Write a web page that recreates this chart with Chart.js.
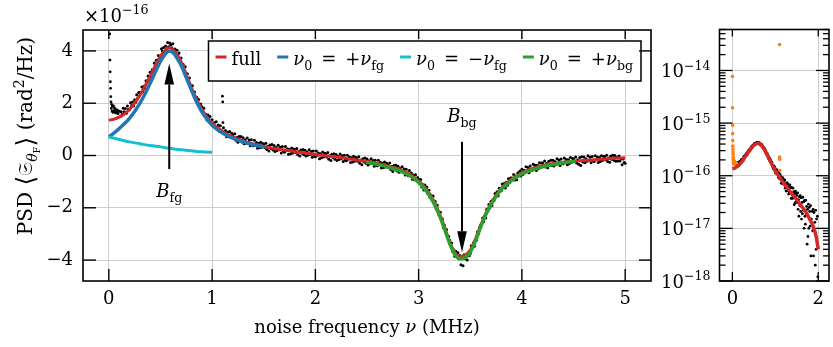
<!DOCTYPE html>
<html>
<head>
<meta charset="utf-8">
<script src="https://cdn.jsdelivr.net/npm/chart.js@4.4.1/dist/chart.umd.min.js"></script>
<style>
  html, body { margin: 0; padding: 0; background: #fff; }
  body { width: 833px; height: 347px; position: relative; overflow: hidden; }
  canvas { position: absolute; top: 0; }
  #main { left: 0; }
  #zoom { left: 655px; }
</style>
</head>
<body>
<canvas id="main" width="655" height="347"></canvas>
<canvas id="zoom" width="178" height="347"></canvas>
<script>
// PSD values are given in units of 1e-16 rad^2/Hz
const PSD_UNIT = 1e-16;

// measured spectrum, one point every 10 kHz starting at 0.10 MHz
const psdStart = 0.10;
const psdStep = 0.01;
const psdValues = [
  1.69, 1.49, 1.67, 1.58, 1.81, 1.67, 1.80, 1.62, 1.89, 1.77,
  1.75, 2.02, 1.91, 2.05, 1.89, 2.13, 2.04, 2.32, 2.20, 2.41,
  2.41, 2.38, 2.62, 2.45, 2.65, 2.55, 2.86, 2.81, 3.04, 2.91,
  3.18, 3.04, 3.28, 3.25, 3.54, 3.45, 3.64, 3.51, 3.82, 3.72,
  3.80, 4.08, 3.99, 4.13, 3.96, 4.19, 4.08, 4.32, 4.16, 4.30,
  4.24, 4.12, 4.27, 3.99, 4.07, 3.85, 4.03, 3.84, 3.92, 3.65,
  3.73, 3.42, 3.48, 3.28, 3.39, 3.12, 3.13, 2.82, 2.96, 2.70,
  2.54, 2.67, 2.43, 2.43, 2.13, 2.23, 2.00, 2.14, 1.89, 1.97,
  1.86, 1.70, 1.81, 1.51, 1.58, 1.36, 1.55, 1.38, 1.49, 1.24,
  1.37, 1.12, 1.25, 1.11, 1.29, 1.09, 1.17, 0.93, 1.14, 0.95,
  0.87, 1.06, 0.89, 0.96, 0.72, 0.89, 0.72, 0.92, 0.72, 0.85,
  0.79, 0.68, 0.83, 0.58, 0.69, 0.51, 0.73, 0.60, 0.73, 0.52,
  0.68, 0.45, 0.60, 0.47, 0.67, 0.49, 0.59, 0.37, 0.60, 0.43,
  0.37, 0.58, 0.42, 0.50, 0.28, 0.46, 0.30, 0.51, 0.32, 0.46,
  0.42, 0.31, 0.47, 0.23, 0.35, 0.17, 0.40, 0.27, 0.42, 0.21,
  0.38, 0.15, 0.31, 0.19, 0.39, 0.22, 0.32, 0.10, 0.34, 0.17,
  0.12, 0.34, 0.18, 0.26, 0.05, 0.23, 0.07, 0.29, 0.10, 0.25,
  0.21, 0.11, 0.27, 0.03, 0.15, -0.02, 0.21, 0.09, 0.23, 0.03,
  0.20, -0.02, 0.13, 0.02, 0.22, 0.04, 0.15, -0.07, 0.17, 0.012,
  -0.05, 0.17, 0.01, 0.10, -0.12, 0.07, -0.09, 0.13, -0.06, 0.09,
  0.05, -0.06, 0.11, -0.14, -0.01, -0.19, 0.05, -0.08, 0.07, -0.14,
  0.04, -0.19, -0.03, -0.15, 0.06, -0.12, -0.01, -0.23, 0.01, -0.16,
  -0.20, 0.01, -0.14, -0.06, -0.27, -0.09, -0.25, -0.03, -0.22, -0.07,
  -0.11, -0.22, -0.05, -0.30, -0.17, -0.35, -0.12, -0.24, -0.10, -0.30,
  -0.13, -0.36, -0.20, -0.32, -0.12, -0.30, -0.19, -0.41, -0.18, -0.34,
  -0.39, -0.18, -0.34, -0.26, -0.48, -0.30, -0.46, -0.25, -0.44, -0.30,
  -0.34, -0.45, -0.29, -0.54, -0.42, -0.61, -0.38, -0.51, -0.37, -0.58,
  -0.41, -0.64, -0.50, -0.62, -0.43, -0.62, -0.52, -0.75, -0.53, -0.71,
  -0.77, -0.57, -0.74, -0.67, -0.91, -0.75, -0.93, -0.74, -0.95, -0.84,
  -0.91, -1.05, -0.92, -1.20, -1.11, -1.32, -1.13, -1.30, -1.20, -1.46,
  -1.33, -1.61, -1.52, -1.69, -1.55, -1.79, -1.76, -2.05, -1.90, -2.16,
  -2.29, -2.17, -2.42, -2.43, -2.75, -2.67, -2.93, -2.83, -3.13, -3.09,
  -3.24, -3.43, -3.35, -3.67, -3.61, -3.85, -3.66, -3.83, -3.72, -3.95,
  -3.82, -4.18, -3.91, -4.22, -3.80, -3.95, -3.82, -4.00, -3.72, -3.83,
  -3.75, -3.45, -3.52, -3.35, -3.47, -3.19, -3.24, -2.92, -2.99, -2.74,
  -2.66, -2.66, -2.39, -2.53, -2.30, -2.39, -2.06, -2.10, -1.87, -2.00,
  -1.76, -1.91, -1.68, -1.72, -1.45, -1.56, -1.39, -1.54, -1.25, -1.36,
  -1.35, -1.09, -1.20, -1.07, -1.24, -1.02, -1.14, -0.89, -1.04, -0.86,
  -0.86, -0.93, -0.73, -0.94, -0.79, -0.93, -0.67, -0.77, -0.60, -0.78,
  -0.53, -0.73, -0.56, -0.65, -0.43, -0.58, -0.46, -0.66, -0.40, -0.55,
  -0.56, -0.33, -0.47, -0.37, -0.57, -0.37, -0.51, -0.28, -0.45, -0.29,
  -0.29, -0.39, -0.21, -0.44, -0.31, -0.47, -0.22, -0.34, -0.18, -0.38,
  -0.18, -0.40, -0.23, -0.34, -0.12, -0.29, -0.17, -0.38, -0.13, -0.29,
  -0.32, -0.10, -0.24, -0.15, -0.35, -0.16, -0.31, -0.08, -0.26, -0.11,
  -0.13, -0.23, -0.06, -0.29, -0.16, -0.33, -0.08, -0.38, -0.05, -0.25,
  -0.06, -0.28, -0.12, -0.22, -0.01, -0.18, -0.07, -0.28, -0.04, -0.19,
  -0.23, -0.01, -0.16, -0.06, -0.27, -0.08, -0.23, -0.01, -0.19, -0.03,
  -0.06, -0.16, 0.01, -0.23, -0.10, -0.26, -0.02, -0.14, 0.01, -0.18,
  0.00, -0.22, -0.08, -0.21, -0.02, -0.21, -0.12, -0.35, -0.13, -0.27, -0.30
];

// points left out of the fit (below 0.1 MHz and the spikes near 1.1 MHz)
const exclFreq = [0.000, 0.003, 0.005, 0.007, 0.009, 0.011, 0.013, 0.015, 0.017, 0.019,
                  0.021, 0.024, 0.028, 0.032, 0.036, 0.040, 0.045, 0.050, 0.055, 0.060,
                  0.065, 0.070, 0.075, 0.080, 0.085, 0.090, 0.095, 1.100, 1.100, 1.103, 1.105];
const exclPsd = [77, 19.5, 9.1, 6.3, 4.65, 3.65, 3.2, 2.82, 2.57, 2.25,
                 2.05, 1.8, 1.95, 1.7, 1.88, 1.65, 1.9, 1.72, 1.82, 1.64,
                 1.76, 1.68, 1.62, 1.74, 1.66, 1.6, 1.7, 310, 2.27, 2.05, 1.26];

// fit: full model
const fullFreq = [0, 0.05, 0.1, 0.15, 0.2, 0.25, 0.3, 0.35, 0.4, 0.45, 0.5, 0.55, 0.585, 0.62, 0.66,
                  0.7, 0.75, 0.8, 0.85, 0.9, 0.95, 1.0, 1.1, 1.2, 1.3, 1.4, 1.5, 1.6, 1.7, 1.8,
                  1.9, 1.95, 2.0, 2.1, 2.2, 2.3, 2.4, 2.5, 2.6, 2.7, 2.8, 2.9, 3.0, 3.05, 3.1,
                  3.15, 3.2, 3.25, 3.3, 3.35, 3.4, 3.45, 3.5, 3.55, 3.6, 3.65, 3.7, 3.8, 3.9, 4.0,
                  4.1, 4.2, 4.3, 4.4, 4.5, 4.6, 4.7, 4.8, 4.9, 5.0];
const fullPsd = [1.35, 1.39, 1.47, 1.59, 1.76, 2.0, 2.3, 2.65, 3.03, 3.43, 3.79, 4.04, 4.12, 4.06, 3.86,
                 3.58, 3.1, 2.6, 2.15, 1.77, 1.48, 1.24, 0.93, 0.71, 0.56, 0.44, 0.35, 0.27, 0.21, 0.15,
                 0.1, 0.07, 0.04, -0.01, -0.06, -0.11, -0.17, -0.23, -0.3, -0.4, -0.51, -0.68, -0.97, -1.17, -1.43,
                 -1.76, -2.2, -2.72, -3.3, -3.7, -3.87, -3.82, -3.62, -3.2, -2.68, -2.22, -1.84, -1.25, -0.91, -0.66,
                 -0.5, -0.38, -0.31, -0.26, -0.22, -0.19, -0.16, -0.13, -0.11, -0.09];

// fit: single Lorentzian at +nu_fg
const fgPlusFreq = [0, 0.05, 0.1, 0.15, 0.2, 0.25, 0.3, 0.35, 0.4, 0.45, 0.5, 0.55, 0.585, 0.62, 0.66,
                    0.7, 0.75, 0.8, 0.85, 0.9, 0.95, 1.0, 1.1, 1.2, 1.3, 1.4, 1.51];
const fgPlusPsd = [0.71, 0.86, 1.03, 1.21, 1.42, 1.68, 1.99, 2.35, 2.76, 3.19, 3.6, 3.9, 4.0, 3.94, 3.73,
                   3.45, 2.98, 2.5, 2.05, 1.68, 1.39, 1.16, 0.86, 0.66, 0.52, 0.41, 0.33];

// fit: mirrored term at -nu_fg
const fgMinusFreq = [0, 0.1, 0.2, 0.3, 0.4, 0.5, 0.6, 0.7, 0.8, 0.9, 1.0];
const fgMinusPsd = [0.71, 0.61, 0.52, 0.45, 0.38, 0.33, 0.27, 0.22, 0.18, 0.14, 0.12];

// fit: dip at +nu_bg
const bgPlusFreq = [2.49, 2.6, 2.7, 2.8, 2.9, 3.0, 3.05, 3.1, 3.15, 3.2, 3.25, 3.3, 3.35, 3.4,
                    3.45, 3.5, 3.55, 3.6, 3.65, 3.7, 3.8, 3.9, 4.0, 4.1, 4.2, 4.3, 4.4, 4.52];
const bgPlusPsd = [-0.26, -0.34, -0.44, -0.56, -0.74, -1.03, -1.23, -1.5, -1.84, -2.28, -2.8, -3.36, -3.78, -3.95,
                   -3.91, -3.7, -3.27, -2.74, -2.27, -1.89, -1.3, -0.96, -0.71, -0.55, -0.43, -0.35, -0.28, -0.22];

// arrows marking the two resonances
const arrowFreq = [0.585, 3.42];
const arrowFrom = [-0.52, 0.52];
const arrowTo = [3.52, -3.7];
const arrowLabelY = [-1.6, 1.28];
const arrowLabelSub = ['fg', 'bg'];

// axes
const xTicks = [0, 1, 2, 3, 4, 5];
const yTicks = [-4, -2, 0, 2, 4];
const zoomXTicks = [0, 2];
const zoomDecades = [-18, -17, -16, -15, -14];
const zoomMinor = [1, 2, 3, 4, 5, 6, 7, 8, 9];
const zoomYMin = 1e-18, zoomYMax = 6e-14;

const FONT = '"DejaVu Serif", serif';
const FS = 18;
const GRID = '#cccccc';
const RED = '#d62728', BLUE = '#1f77b4', CYAN = '#17becf', GREEN = '#2ca02c', ORANGE = '#ff7f0e';

const pairs = (xs, ys, k = 1) => xs.map((x, i) => ({ x, y: ys[i] * k }));
const measured = psdValues.map((v, i) => ({ x: psdStart + i * psdStep, y: v }));

// ---- small rich text helper (italics, sub- and superscripts) ----
function partFont(p, size) {
  let s = size;
  if (p.sub || p.sup) s = size * 0.7;
  if (p.sub2) s = size * 0.5;
  if (p.k) s = size * p.k;
  return (p.i ? 'italic ' : '') + s.toFixed(1) + 'px ' + FONT;
}
function richWidth(ctx, parts, size) {
  let w = 0;
  for (const p of parts) { ctx.font = partFont(p, size); w += ctx.measureText(p.t).width; }
  return w;
}
function drawRich(ctx, parts, x, y, size) {
  ctx.textAlign = 'left';
  ctx.textBaseline = 'alphabetic';
  for (const p of parts) {
    ctx.font = partFont(p, size);
    let dy = 0;
    if (p.sub) dy = size * 0.26;
    if (p.sup) dy = -size * 0.42;
    if (p.sub2) dy = size * 0.42;
    if (p.dy) dy = p.dy * size;
    ctx.fillText(p.t, x, y + dy);
    x += ctx.measureText(p.t).width;
  }
  return x;
}
function seg(ctx, x0, y0, x1, y1) {
  ctx.beginPath(); ctx.moveTo(x0, y0); ctx.lineTo(x1, y1); ctx.stroke();
}

const isDecade = v => Math.abs(Math.log10(v) - Math.round(Math.log10(v))) < 1e-6;

// ---- decorations of the main panel ----
const mainDecor = {
  id: 'mainDecor',
  afterDraw(chart) {
    const { ctx, chartArea: a, scales: { x, y } } = chart;
    ctx.save();
    ctx.fillStyle = '#000';
    ctx.strokeStyle = '#000';

    // arrows + labels
    arrowFreq.forEach((f, i) => {
      const px = x.getPixelForValue(f);
      const y0 = y.getPixelForValue(arrowFrom[i]);
      const y1 = y.getPixelForValue(arrowTo[i]);
      const dir = Math.sign(y1 - y0), head = 21, half = 4.8;
      ctx.lineWidth = 2;
      seg(ctx, px, y0, px, y1 - dir * head);
      ctx.beginPath();
      ctx.moveTo(px, y1);
      ctx.lineTo(px - half, y1 - dir * head);
      ctx.lineTo(px + half, y1 - dir * head);
      ctx.closePath();
      ctx.fill();
      const parts = [{ t: 'B', i: true }, { t: arrowLabelSub[i], sub: true }];
      const w = richWidth(ctx, parts, FS);
      drawRich(ctx, parts, px - w / 2, y.getPixelForValue(arrowLabelY[i]), FS);
    });

    // legend
    const items = chart.data.datasets.filter(d => d.legendParts);
    const lineLen = 11, gapLine = 5, gapItem = 16, padL = 7, padR = 8;
    let total = padL + padR - gapItem;
    for (const d of items) total += lineLen + gapLine + richWidth(ctx, d.legendParts, FS) + gapItem;
    const bx = a.right - 10 - total, by = a.top + 11, bh = 40;
    ctx.fillStyle = '#fff';
    ctx.fillRect(bx, by, total, bh);
    ctx.lineWidth = 1.5;
    ctx.strokeRect(bx, by, total, bh);
    let cx = bx + padL;
    for (const d of items) {
      ctx.strokeStyle = d.borderColor;
      ctx.lineWidth = 3;
      seg(ctx, cx, by + 16, cx + lineLen, by + 16);
      cx += lineLen + gapLine;
      ctx.fillStyle = '#000';
      cx = drawRich(ctx, d.legendParts, cx, by + 24, FS) + gapItem;
    }

    // frame and inward ticks
    ctx.strokeStyle = '#000';
    ctx.lineWidth = 1.4;
    for (const t of x.ticks) {
      const px = x.getPixelForValue(t.value);
      seg(ctx, px, a.bottom, px, a.bottom - 12);
      seg(ctx, px, a.top, px, a.top + 9);
    }
    for (const t of y.ticks) {
      const py = y.getPixelForValue(t.value);
      seg(ctx, a.left, py, a.left + 13, py);
      seg(ctx, a.right, py, a.right - 12, py);
    }
    ctx.lineWidth = 1.6;
    ctx.strokeRect(a.left, a.top, a.right - a.left, a.bottom - a.top);

    // offset text
    ctx.fillStyle = '#000';
    drawRich(ctx, [{ t: '×10' }, { t: '−16', sup: true }], a.left + 1, 22, FS);

    // x title
    const xt = [{ t: 'noise frequency ' }, { t: 'ν', i: true }, { t: ' (MHz)' }];
    const xw = richWidth(ctx, xt, FS);
    drawRich(ctx, xt, (a.left + a.right) / 2 - xw / 2, 333, FS);

    // y title
    const YS = 20;
    const yt = [{ t: 'PSD ' }, { t: '⟨', k: 1.25, dy: 0.1 }, { t: '𝔖' }, { t: 'θ', i: true, sub: true },
                { t: 'F', sub2: true }, { t: '⟩', k: 1.25, dy: 0.1 }, { t: ' (rad' }, { t: '2', sup: true },
                { t: '/Hz)' }];
    const yw = richWidth(ctx, yt, YS);
    ctx.translate(32, 136);
    ctx.rotate(-Math.PI / 2);
    drawRich(ctx, yt, -yw / 2, 0, YS);
    ctx.restore();
  }
};

// ---- decorations of the log panel ----
const zoomDecor = {
  id: 'zoomDecor',
  afterDraw(chart) {
    const { ctx, chartArea: a, scales: { x, y } } = chart;
    ctx.save();
    ctx.strokeStyle = '#000';
    ctx.fillStyle = '#000';
    ctx.lineWidth = 1.3;
    for (const t of x.ticks) {
      const px = x.getPixelForValue(t.value);
      seg(ctx, px, a.bottom, px, a.bottom - 9);
      seg(ctx, px, a.top, px, a.top + 7);
    }
    for (const t of y.ticks) {
      const py = y.getPixelForValue(t.value);
      const len = isDecade(t.value) ? 13 : 6;
      seg(ctx, a.left, py, a.left + len, py);
      seg(ctx, a.right, py, a.right - len, py);
    }
    ctx.lineWidth = 1.6;
    ctx.strokeRect(a.left, a.top, a.right - a.left, a.bottom - a.top);
    for (const d of zoomDecades) {
      const py = y.getPixelForValue(Math.pow(10, d));
      const parts = [{ t: '10' }, { t: '−' + Math.abs(d), sup: true }];
      const w = richWidth(ctx, parts, FS);
      drawRich(ctx, parts, a.left - 9 - w, py + 7, FS);
    }
    ctx.restore();
  }
};

const common = {
  animation: false,
  responsive: false,
  events: [],
  plugins: { legend: { display: false }, tooltip: { enabled: false } }
};
const tickFont = { family: FONT, size: FS };
const minusLabel = v => (v < 0 ? '−' : '') + Math.abs(v);
const SP = '\u2002';

new Chart(document.getElementById('main'), {
  type: 'scatter',
  data: {
    datasets: [
      { label: 'data', data: measured, pointRadius: 1.5, pointBorderWidth: 0,
        pointBackgroundColor: '#000', order: 10 },
      { label: 'excluded', data: pairs(exclFreq, exclPsd), pointRadius: 1.4, pointBorderWidth: 0,
        pointBackgroundColor: '#000', order: 10 },
      { label: 'full', data: pairs(fullFreq, fullPsd), showLine: true, borderColor: RED, borderWidth: 3,
        pointRadius: 0, cubicInterpolationMode: 'monotone', order: 4,
        legendParts: [{ t: 'full' }] },
      { label: 'nu0 = +nu_fg', data: pairs(fgPlusFreq, fgPlusPsd), showLine: true, borderColor: BLUE,
        borderWidth: 3.5, pointRadius: 0, cubicInterpolationMode: 'monotone', order: 3,
        legendParts: [{ t: 'ν', i: true }, { t: '0', sub: true }, { t: SP + '=' + SP + '+' }, { t: 'ν', i: true }, { t: 'fg', sub: true }] },
      { label: 'nu0 = -nu_fg', data: pairs(fgMinusFreq, fgMinusPsd), showLine: true, borderColor: CYAN,
        borderWidth: 3, pointRadius: 0, cubicInterpolationMode: 'monotone', order: 2,
        legendParts: [{ t: 'ν', i: true }, { t: '0', sub: true }, { t: SP + '=' + SP + '−' }, { t: 'ν', i: true }, { t: 'fg', sub: true }] },
      { label: 'nu0 = +nu_bg', data: pairs(bgPlusFreq, bgPlusPsd), showLine: true, borderColor: GREEN,
        borderWidth: 3.5, pointRadius: 0, cubicInterpolationMode: 'monotone', order: 1,
        legendParts: [{ t: 'ν', i: true }, { t: '0', sub: true }, { t: SP + '=' + SP + '+' }, { t: 'ν', i: true }, { t: 'bg', sub: true }] }
    ]
  },
  options: {
    ...common,
    layout: { padding: { top: 30, right: 4, bottom: 0, left: 0 } },
    scales: {
      x: {
        type: 'linear', min: -0.25, max: 5.25,
        afterBuildTicks: s => { s.ticks = xTicks.map(v => ({ value: v })); },
        afterFit: s => { s.height = 66; },
        ticks: { font: tickFont, color: '#000', padding: 8, maxRotation: 0 },
        grid: { color: GRID, lineWidth: 1, drawTicks: false },
        border: { display: false }
      },
      y: {
        type: 'linear', min: -4.8, max: 4.8,
        afterBuildTicks: s => { s.ticks = yTicks.map(v => ({ value: v })); },
        afterFit: s => { s.width = 83; },
        ticks: { font: tickFont, color: '#000', padding: 10, callback: minusLabel },
        grid: { color: GRID, lineWidth: 1, drawTicks: false },
        border: { display: false }
      }
    }
  },
  plugins: [mainDecor]
});

// log panel: positive part of the spectrum up to 2 MHz
const zoomTickValues = [];
for (const d of zoomDecades) for (const m of zoomMinor) {
  const v = m * Math.pow(10, d);
  if (v <= zoomYMax) zoomTickValues.push(v);
}

new Chart(document.getElementById('zoom'), {
  type: 'scatter',
  data: {
    datasets: [
      { label: 'data', data: measured.filter(p => p.x <= 2.001 && p.y > 0).map(p => ({ x: p.x, y: p.y * PSD_UNIT })),
        pointRadius: 1.4, pointBorderWidth: 0, pointBackgroundColor: '#000', order: 10 },
      { label: 'excluded', data: pairs(exclFreq, exclPsd, PSD_UNIT), pointRadius: 1.8, pointBorderWidth: 0,
        pointBackgroundColor: ORANGE, order: 9 },
      { label: 'full', data: pairs(fullFreq, fullPsd, PSD_UNIT).filter(p => p.x <= 2), showLine: true,
        borderColor: RED, borderWidth: 3.5, pointRadius: 0, cubicInterpolationMode: 'monotone', order: 1 }
    ]
  },
  options: {
    ...common,
    layout: { padding: { top: 29.5, right: 1.5, bottom: 0, left: 0 } },
    scales: {
      x: {
        type: 'linear', min: -0.3, max: 2.25,
        afterBuildTicks: s => { s.ticks = zoomXTicks.map(v => ({ value: v })); },
        afterFit: s => { s.height = 66; },
        ticks: { font: tickFont, color: '#000', padding: 8, maxRotation: 0 },
        grid: { color: GRID, lineWidth: 1, drawTicks: false },
        border: { display: false }
      },
      y: {
        type: 'logarithmic', min: zoomYMin, max: zoomYMax,
        afterBuildTicks: s => { s.ticks = zoomTickValues.map(v => ({ value: v })); },
        afterFit: s => { s.width = 64.5; },
        ticks: { display: false },
        grid: { color: c => (c.tick && isDecade(c.tick.value)) ? GRID : 'rgba(0,0,0,0)', lineWidth: 1, drawTicks: false },
        border: { display: false }
      }
    }
  },
  plugins: [zoomDecor]
});
</script>
</body>
</html>
